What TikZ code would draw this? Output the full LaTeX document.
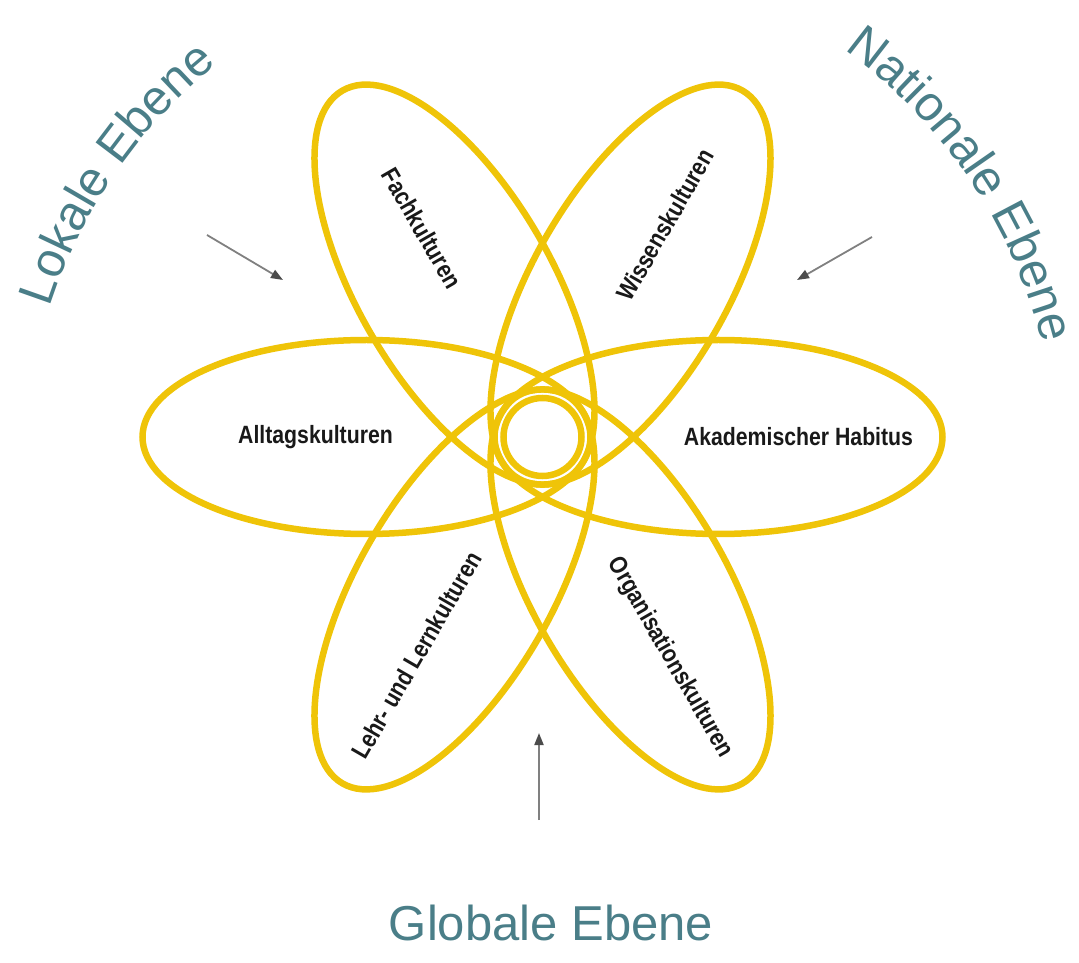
\documentclass[tikz,border=0pt]{standalone}
\usepackage{fontspec}
\newfontfamily\cultfont[FakeStretch=0.85]{Liberation Sans}
\newfontfamily\levelfont{Liberation Sans}
\usetikzlibrary{arrows.meta,decorations.text}
\definecolor{petalyellow}{RGB}{239,196,8}
\definecolor{levelteal}{RGB}{74,126,136}
\definecolor{arrowgray}{RGB}{128,128,128}
\newcommand{\levelsize}{\levelfont\fontsize{49}{58}\selectfont}
\begin{document}
\begin{tikzpicture}
[x=1pt,y=1pt,
petal/.style={draw=petalyellow,line width=6.5pt},
culture/.style={font=\cultfont\bfseries\fontsize{25}{29}\selectfont,text=black!90,inner sep=0pt},
pointer/.style={draw=arrowgray,line width=1.8pt,-{Triangle[length=12pt,width=9pt,color=black!70]}},
level/.style={font=\levelsize,text=levelteal,inner sep=0pt},
levelarc/.style={decorate,decoration={text along path,text align=center,text color=levelteal,text={|\levelsize|#1}}}]
\useasboundingbox (-542.5,437) rectangle (536.5,-526);
\coordinate (c) at (0,0);
\foreach \a in {0,60,...,300}
  \draw[petal,rotate=\a] (176,0) ellipse [x radius=224pt,y radius=97pt];
\draw[petal] (c) circle [radius=39pt];
\node[culture] (alltag) at (180:227) {Alltagskulturen};
\node[culture] (habitus) at (0:256) {Akademischer Habitus};
\node[culture,rotate=-60] (fach) at (120:241) {Fachkulturen};
\node[culture,rotate=60] (wissen) at (60:245) {Wissenskulturen};
\node[culture,rotate=60] (lehrlern) at (240:252) {Lehr- und Lernkulturen};
\node[culture,rotate=-60] (orga) at (300:255) {Organisationskulturen};
\coordinate (arc) at (0,-30);
\path[levelarc=Lokale Ebene] (arc) ++(175.5:518) arc [start angle=175.5,end angle=115.5,radius=518pt];
\path[levelarc=Nationale Ebene] (arc) ++(64:515) arc [start angle=64,end angle=4,radius=515pt];
\node[level,anchor=base] (global) at (8.5,-503) {Globale Ebene};
\coordinate (lokalfrom) at (-335.5,202);
\coordinate (lokalto) at (-259.5,157);
\coordinate (nationalfrom) at (329.5,200);
\coordinate (nationalto) at (254.5,157);
\coordinate (globalfrom) at (-3.5,-383);
\coordinate (globalto) at (-3.5,-296);
\draw[pointer] (lokalfrom) -- (lokalto);
\draw[pointer] (nationalfrom) -- (nationalto);
\draw[pointer] (globalfrom) -- (globalto);
\end{tikzpicture}
\end{document}
